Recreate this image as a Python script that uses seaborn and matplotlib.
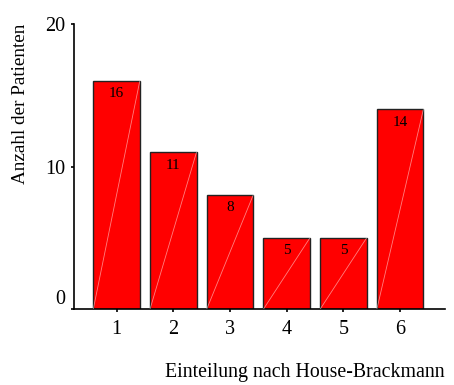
import numpy as np
import pandas as pd
import matplotlib
matplotlib.use('Agg')
import matplotlib.pyplot as plt
import seaborn as sns

grades = ['1', '2', '3', '4', '5', '6']
counts = [16, 11, 8, 5, 5, 14]

df = pd.DataFrame({'Grad': grades, 'Anzahl': counts})

sns.set_style('ticks')
plt.rcParams['font.family'] = ['Liberation Serif', 'DejaVu Serif']
plt.rcParams['text.color'] = 'black'
plt.rcParams['axes.labelcolor'] = 'black'

fig = plt.figure(figsize=(4.54, 3.85), dpi=100)
ax = fig.add_axes([0.163, 0.197, 0.817, 0.741])

sns.barplot(data=df, x='Grad', y='Anzahl', color='red', saturation=1,
            edgecolor='#222222', linewidth=1.0, width=0.82, ax=ax)

# feine weisse Diagonale in jedem Balken
for bar in ax.patches:
    x0 = bar.get_x()
    w = bar.get_width()
    h = bar.get_height()
    ax.plot([x0, x0 + w], [0, h], color='white', lw=0.6, alpha=0.5, zorder=3)

for c in ax.containers:
    ax.bar_label(c, padding=-14, fontsize=11, color='black')

ax.set_xlim(-0.75, 5.79)
ax.set_ylim(0, 20)
ax.set_yticks([0, 10, 20])
ax.set_yticklabels(['0', '10', '20'])
ax.tick_params(axis='both', labelsize=14.5, length=2.5, width=1.2,
               colors='black', labelcolor='black')
ax.tick_params(axis='y', pad=4)
ax.tick_params(axis='x', pad=5)
for lab in ax.get_yticklabels():
    if lab.get_text() == '0':
        lab.set_va('bottom')

sns.despine(ax=ax)
ax.spines['left'].set_linewidth(1.2)
ax.spines['bottom'].set_linewidth(1.2)
ax.spines['left'].set_color('black')
ax.spines['bottom'].set_color('black')

ax.set_xlabel('Einteilung nach House-Brackmann', fontsize=14.3, ha='right', color='black')
ax.xaxis.set_label_coords(1.0, -0.19)
ax.set_ylabel('Anzahl der Patienten', fontsize=13.8, color='black')
ax.yaxis.set_label_coords(-0.12, 0.72)

fig.savefig('out.png', dpi=100)
